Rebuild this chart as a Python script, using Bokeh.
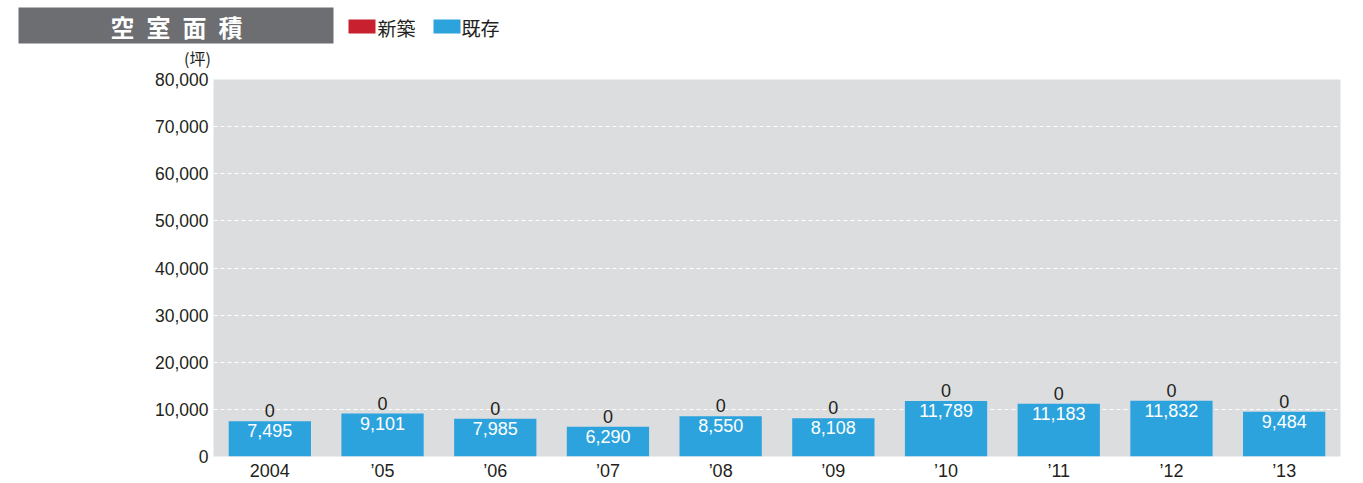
from bokeh.plotting import figure
from bokeh.models import ColumnDataSource, Range1d, FactorRange, NumeralTickFormatter, FixedTicker, LabelSet
from bokeh.layouts import column
from bokeh.embed import file_html
from bokeh.resources import INLINE
from bokeh.core.properties import value

years = ["2004", "’05", "’06", "’07", "’08", "’09", "’10", "’11", "’12", "’13"]
new_build = [0, 0, 0, 0, 0, 0, 0, 0, 0, 0]
existing = [7495, 9101, 7985, 6290, 8550, 8108, 11789, 11183, 11832, 9484]
y_ticks = [0, 10000, 20000, 30000, 40000, 50000, 60000, 70000, 80000]
title_text = "空\u2002室\u2002面\u2002積"
legend_labels = ["新築", "既存"]
unit_label = "(坪)"

RED = "#c8202f"
BLUE = "#2ca3dd"
TEXT = "#231f20"
FONT = "Liberation Sans"
CJK = "Noto Sans CJK JP"

HEAD_H = 69

# Header (title box, legend, unit)
h = figure(width=1363, height=HEAD_H, x_range=Range1d(0, 1363), y_range=Range1d(HEAD_H, 0),
           output_backend="svg", toolbar_location=None, min_border=0)
h.frame_align = False
h.axis.visible = False
h.grid.visible = False
h.outline_line_color = None
h.background_fill_color = None
h.border_fill_color = None
h.quad(left=[18], right=[333], top=[7], bottom=[43], fill_color="#6d6e71", line_color=None)
h.text(x=[176], y=[26], text=[title_text], text_color="white", text_font=value(CJK),
       text_font_style="bold", text_font_size="24px", text_align="center", text_baseline="middle")
h.quad(left=[348, 433], right=[375, 460], top=[19, 19], bottom=[33, 33],
       fill_color=[RED, BLUE], line_color=None)
h.text(x=[377, 461], y=[27, 27], text=legend_labels, text_color=TEXT, text_font=value(CJK),
       text_font_size="19px", text_align="left", text_baseline="middle")
h.text(x=[197], y=[57], text=[unit_label], text_color=TEXT, text_font=value(CJK),
       text_font_size="16px", text_align="center", text_baseline="middle")

# Main chart
src = ColumnDataSource(dict(
    year=years, existing=existing, new_build=new_build,
    total=[a + b for a, b in zip(existing, new_build)],
    ex_lbl=[f"{v:,}" for v in existing], new_lbl=[f"{v:,}" for v in new_build],
))
p = figure(width=1363, height=483 - HEAD_H, x_range=FactorRange(*years), y_range=Range1d(0, 80000),
           output_backend="svg", toolbar_location=None,
           min_border_left=213, min_border_right=23, min_border_top=79 - HEAD_H, min_border_bottom=27)
p.frame_align = False
p.background_fill_color = "#dcdddf"
p.border_fill_color = "white"
p.outline_line_color = None
p.vbar_stack(["existing", "new_build"], x="year", width=0.73, color=[BLUE, RED], source=src,
             line_color=None)
p.xgrid.visible = False
p.ygrid.grid_line_color = "white"
p.ygrid.grid_line_dash = "4 3"
p.ygrid.grid_line_width = 1
p.yaxis.ticker = FixedTicker(ticks=y_ticks)
p.yaxis.formatter = NumeralTickFormatter(format="0,0")
for ax in (p.xaxis, p.yaxis):
    ax.axis_line_color = None
    ax.major_tick_line_color = None
    ax.minor_tick_line_color = None
    ax.major_tick_out = 0
    ax.major_tick_in = 0
    ax.minor_tick_out = 0
    ax.minor_tick_in = 0
    ax.major_label_text_font = FONT
    ax.major_label_text_color = TEXT
p.yaxis.major_label_text_font_size = "17.5px"
p.xaxis.major_label_text_font_size = "18px"
p.yaxis.major_label_standoff = 5
p.xaxis.major_label_standoff = 4

p.add_layout(LabelSet(x="year", y="existing", text="ex_lbl", source=src, text_align="center",
                      text_baseline="top", y_offset=-3, text_color="white",
                      text_font=value(FONT), text_font_size="18px"))
p.add_layout(LabelSet(x="year", y="total", text="new_lbl", source=src, text_align="center",
                      text_baseline="bottom", y_offset=4, text_color=TEXT,
                      text_font=value(FONT), text_font_size="18px"))

layout = column(h, p, spacing=0)
open("out.html", "w").write(file_html(layout, INLINE))
